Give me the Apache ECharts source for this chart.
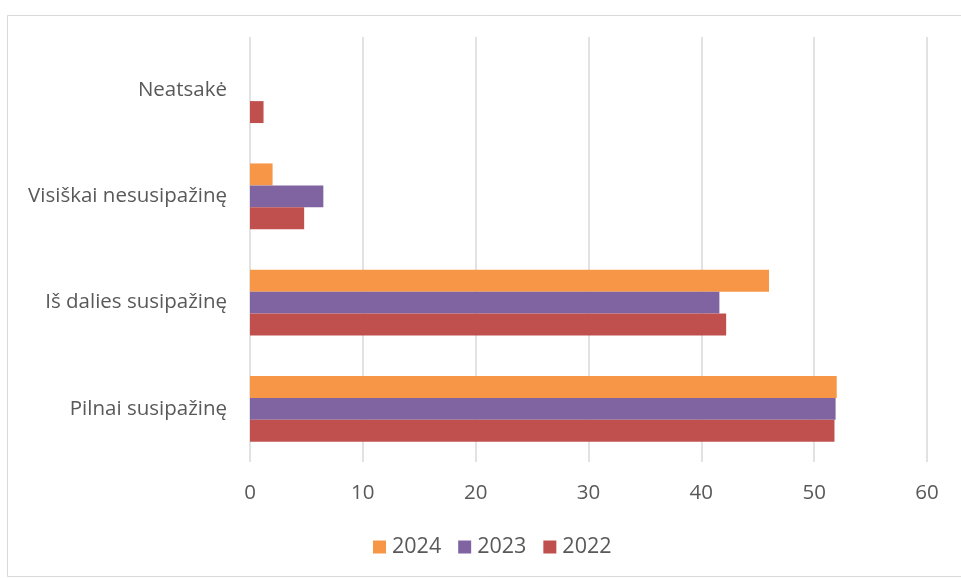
<!DOCTYPE html>
<html>
<head>
<meta charset="utf-8">
<script src="https://cdn.jsdelivr.net/npm/echarts@6/dist/echarts.min.js"></script>
<style>html,body{margin:0;padding:0;background:#fff}#c{width:961px;height:578px}</style>
</head>
<body>
<div id="c"></div>
<script>
const categories = ['Pilnai susipažinę', 'Iš dalies susipažinę', 'Visiškai nesusipažinę', 'Neatsakė'];
const seriesNames = ['2024', '2023', '2022'];
const values2022 = [51.8, 42.2, 4.8, 1.2];
const values2023 = [51.9, 41.6, 6.5, 0];
const values2024 = [52.0, 46.0, 2.0, 0];
const xTicks = [0, 10, 20, 30, 40, 50, 60];
const colors = {'2022': '#C0504D', '2023': '#8064A2', '2024': '#F79646'};

const chart = echarts.init(document.getElementById('c'));
const font = '"Open Sans", sans-serif';
const dataBySeries = {'2022': values2022, '2023': values2023, '2024': values2024};
chart.setOption({
  animation: false,
  graphic: [{
    type: 'rect', shape: {x: 7.5, y: 15.5, width: 960, height: 561},
    style: {fill: 'none', stroke: '#D9D9D9', lineWidth: 1}, silent: true
  }],
  grid: {left: 250, right: 34, top: 37, bottom: 116, containLabel: false},
  xAxis: {
    type: 'value', min: xTicks[0], max: xTicks[xTicks.length - 1], interval: 10,
    axisLine: {show: false}, axisTick: {show: false},
    axisLabel: {color: '#595959', fontSize: 20.5, fontFamily: font, margin: 21},
    splitLine: {lineStyle: {color: '#D9D9D9', width: 1.5}}
  },
  yAxis: {
    type: 'category', data: categories,
    axisLine: {show: false}, axisTick: {show: false},
    axisLabel: {color: '#595959', fontSize: 20.5, fontFamily: font, margin: 23}
  },
  legend: {
    data: ['2024', '2023', '2022'], top: 531, left: 368,
    icon: 'rect', itemWidth: 13, itemHeight: 13, itemGap: 17,
    textStyle: {color: '#595959', fontSize: 21.5, fontFamily: font, padding: [0, 0, 0, 1]}
  },
  series: seriesNames.map(n => ({
    name: n, type: 'bar', data: dataBySeries[n],
    itemStyle: {color: colors[n]},
    barGap: '0%', barCategoryGap: '38%'
  }))
});
</script>
</body>
</html>
